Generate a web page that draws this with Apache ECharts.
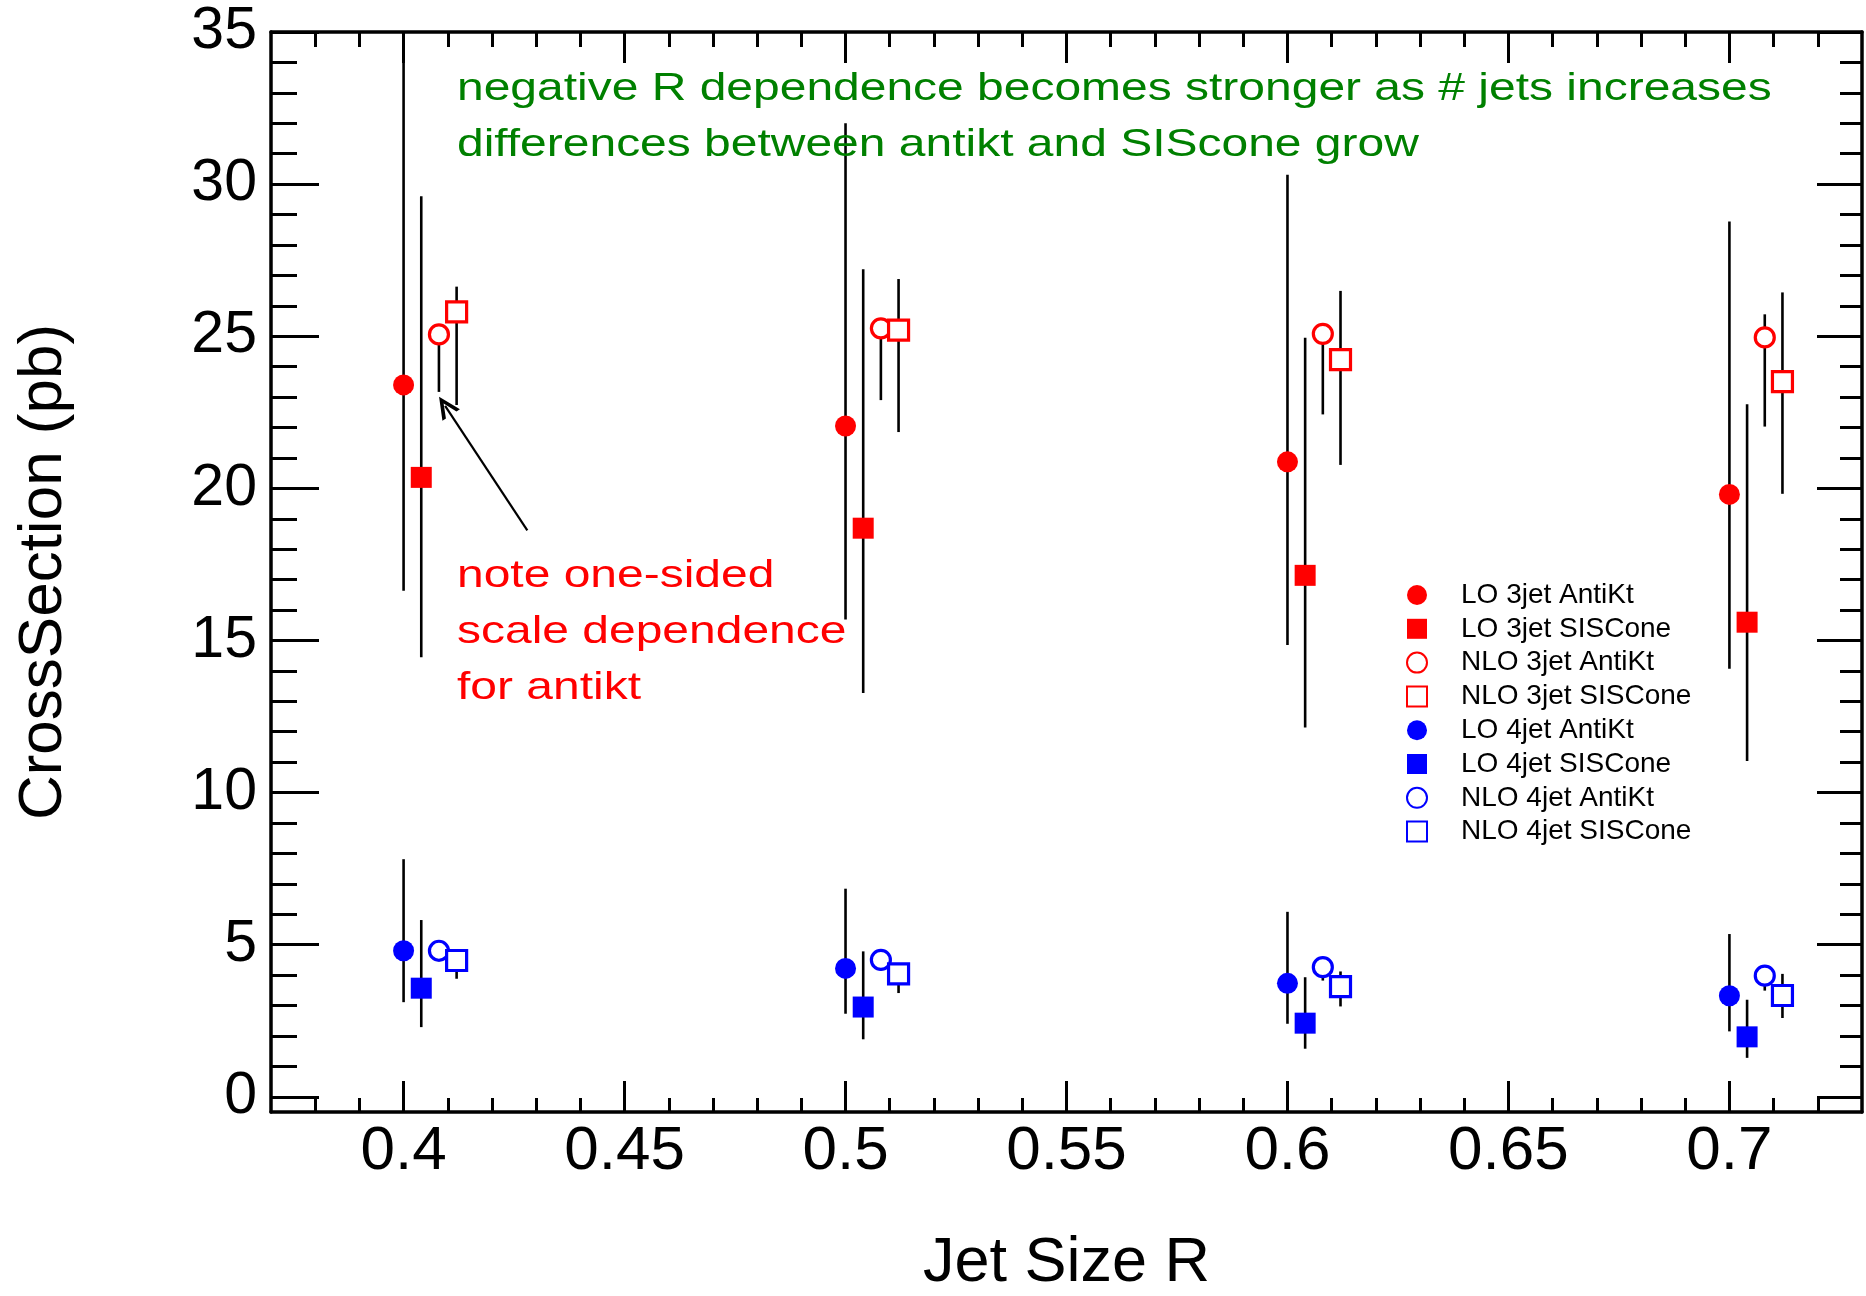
<!DOCTYPE html>
<html><head><meta charset="utf-8">
<script src="https://cdn.jsdelivr.net/npm/echarts@6/dist/echarts.min.js"></script>
<style>html,body{margin:0;padding:0;background:#fff}#c{width:1866px;height:1296px}</style>
</head><body><div id="c"></div>
<script>
// ---------- data ----------
const seriesNames = ['LO 3jet AntiKt','LO 3jet SISCone','NLO 3jet AntiKt','NLO 3jet SISCone',
                     'LO 4jet AntiKt','LO 4jet SISCone','NLO 4jet AntiKt','NLO 4jet SISCone'];
// x positions (jet size R, with the plot's small horizontal shifts per algorithm)
const xLOAntiKt  = [0.400, 0.500, 0.600, 0.700];
const xLOSIS     = [0.404, 0.504, 0.604, 0.704];
const xNLOAntiKt = [0.408, 0.508, 0.608, 0.708];
const xNLOSIS    = [0.412, 0.512, 0.612, 0.712];

// 3-jet
const lo3AntiKt     = [23.40, 22.05, 20.87, 19.80];
const lo3AntiKtLow  = [16.63, 15.69, 14.85, 14.07];
const lo3AntiKtHigh = [34.00, 32.00, 30.31, 28.77];
const lo3SIS        = [20.36, 18.69, 17.14, 15.60];
const lo3SISLow     = [14.45, 13.27, 12.14, 11.04];
const lo3SISHigh    = [29.60, 27.20, 24.95, 22.76];
const nlo3AntiKt     = [25.06, 25.26, 25.08, 24.96];
const nlo3AntiKtLow  = [23.17, 22.90, 22.43, 22.03];
const nlo3AntiKtHigh = [25.06, 25.26, 25.08, 25.72];
const nlo3SIS        = [25.80, 25.20, 24.23, 23.51];
const nlo3SISLow     = [22.74, 21.85, 20.77, 19.82];
const nlo3SISHigh    = [26.63, 26.88, 26.49, 26.44];
// 4-jet
const lo4AntiKt     = [4.80, 4.22, 3.73, 3.32];
const lo4AntiKtLow  = [3.11, 2.73, 2.40, 2.15];
const lo4AntiKtHigh = [7.81, 6.84, 6.08, 5.35];
const lo4SIS        = [3.57, 2.95, 2.42, 1.97];
const lo4SISLow     = [2.29, 1.89, 1.58, 1.28];
const lo4SISHigh    = [5.81, 4.78, 3.93, 3.19];
const nlo4AntiKt     = [4.80, 4.50, 4.26, 3.98];
const nlo4AntiKtLow  = [4.45, 4.15, 3.82, 3.49];
const nlo4AntiKtHigh = [4.80, 4.50, 4.26, 3.98];
const nlo4SIS        = [4.48, 4.04, 3.62, 3.33];
const nlo4SISLow     = [3.88, 3.41, 2.97, 2.59];
const nlo4SISHigh    = [4.70, 4.30, 4.12, 4.04];

// axis ticks
const xTicks = [0.4, 0.45, 0.5, 0.55, 0.6, 0.65, 0.7];
const xMinorTicks = [0.38, 0.39, 0.41, 0.42, 0.43, 0.44, 0.46, 0.47, 0.48, 0.49, 0.51, 0.52, 0.53, 0.54,
                     0.56, 0.57, 0.58, 0.59, 0.61, 0.62, 0.63, 0.64, 0.66, 0.67, 0.68, 0.69, 0.71, 0.72];
const yTicks = [0, 5, 10, 15, 20, 25, 30, 35];
const yMinorTicks = [1, 2, 3, 4, 6, 7, 8, 9, 11, 12, 13, 14, 16, 17, 18, 19, 21, 22, 23, 24,
                     26, 27, 28, 29, 31, 32, 33, 34];

// annotations
const greenLines = ['negative R dependence becomes stronger as # jets increases',
                    'differences between antikt and SIScone grow'];
const redLines = ['note one-sided', 'scale dependence', 'for antikt'];
const arrowFrom = [0.428, 18.62];
const arrowTo   = [0.4094, 22.71];

// ---------- build ----------
const FONT = '"Liberation Sans", Arial, Helvetica, sans-serif';
const RED = '#ff0000', BLUE = '#0000ff';
const defs = [
  {x: xLOAntiKt,  y: lo3AntiKt,  lo: lo3AntiKtLow,  hi: lo3AntiKtHigh,  sym: 'circle', c: RED,  open: false},
  {x: xLOSIS,     y: lo3SIS,     lo: lo3SISLow,     hi: lo3SISHigh,     sym: 'rect',   c: RED,  open: false},
  {x: xNLOAntiKt, y: nlo3AntiKt, lo: nlo3AntiKtLow, hi: nlo3AntiKtHigh, sym: 'circle', c: RED,  open: true},
  {x: xNLOSIS,    y: nlo3SIS,    lo: nlo3SISLow,    hi: nlo3SISHigh,    sym: 'rect',   c: RED,  open: true},
  {x: xLOAntiKt,  y: lo4AntiKt,  lo: lo4AntiKtLow,  hi: lo4AntiKtHigh,  sym: 'circle', c: BLUE, open: false},
  {x: xLOSIS,     y: lo4SIS,     lo: lo4SISLow,     hi: lo4SISHigh,     sym: 'rect',   c: BLUE, open: false},
  {x: xNLOAntiKt, y: nlo4AntiKt, lo: nlo4AntiKtLow, hi: nlo4AntiKtHigh, sym: 'circle', c: BLUE, open: true},
  {x: xNLOSIS,    y: nlo4SIS,    lo: nlo4SISLow,    hi: nlo4SISHigh,    sym: 'rect',   c: BLUE, open: true}
];

const errData = [];
defs.forEach(d => d.x.forEach((xv, i) => errData.push([xv, d.lo[i], d.hi[i]])));

const series = [{
  type: 'custom', name: 'errors', z: 1, silent: true,
  xAxisIndex: 0, yAxisIndex: 0,
  encode: {x: 0, y: [1, 2]},
  data: errData,
  renderItem: (params, api) => {
    const p1 = api.coord([api.value(0), api.value(1)]);
    const p2 = api.coord([api.value(0), api.value(2)]);
    return {type: 'line', shape: {x1: p1[0], y1: p1[1], x2: p2[0], y2: p2[1]},
            style: {stroke: '#000', lineWidth: 2.6}};
  }
}];
defs.forEach((d, k) => {
  const s = {
    type: 'scatter', name: seriesNames[k], z: 3,
    xAxisIndex: 0, yAxisIndex: 0,
    symbol: d.sym,
    symbolSize: d.open ? (d.sym === 'rect' ? 20 : 19) : 21,
    itemStyle: d.open ? {color: '#fff', borderColor: d.c, borderWidth: 3.2, opacity: 1}
                      : {color: d.c, opacity: 1},
    data: d.x.map((xv, i) => [xv, d.y[i]])
  };
  if (k === 2) {
    s.markLine = {
      silent: true, z: 5,
      symbol: ['none', 'path://M10,0 L20,20 L16,20 L10,7.5 L4,20 L0,20 Z'],
      symbolSize: [21, 22],
      label: {show: false},
      lineStyle: {color: '#000', width: 2.2, type: 'solid'},
      itemStyle: {color: '#000'},
      data: [[{coord: arrowFrom}, {coord: arrowTo}]]
    };
  }
  series.push(s);
});

const X0 = 0.37, X1 = 0.73, Y0 = -0.5, Y1 = 35;
function xAxisDef(pos, vals, len, withLine, withLabel) {
  const a = {
    type: 'value', position: pos, min: X0, max: X1,
    axisLine: {show: withLine, onZero: false, lineStyle: {color: '#000', width: 3.5}},
    axisTick: {show: true, inside: true, length: len, customValues: vals,
               lineStyle: {color: '#000', width: 3}},
    axisLabel: {show: withLabel},
    splitLine: {show: false}, minorTick: {show: false}, minorSplitLine: {show: false}
  };
  if (withLabel) {
    a.axisLabel = {show: true, customValues: xTicks, fontSize: 62, color: '#000',
                   fontFamily: FONT, margin: 9};
    a.name = 'Jet Size R'; a.nameLocation = 'middle'; a.nameGap = 120;
    a.nameTextStyle = {fontSize: 63, color: '#000', fontFamily: FONT};
  }
  return a;
}
function yAxisDef(pos, vals, len, withLine, withLabel) {
  const a = {
    type: 'value', position: pos, min: Y0, max: Y1,
    axisLine: {show: withLine, onZero: false, lineStyle: {color: '#000', width: 3.5}},
    axisTick: {show: true, inside: true, length: len, customValues: vals,
               lineStyle: {color: '#000', width: 3}},
    axisLabel: {show: withLabel},
    splitLine: {show: false}, minorTick: {show: false}, minorSplitLine: {show: false}
  };
  if (withLabel) {
    a.axisLabel = {show: true, customValues: yTicks, fontSize: 59, color: '#000',
                   fontFamily: FONT, margin: 14};
    a.name = 'CrossSection (pb)'; a.nameLocation = 'middle'; a.nameGap = 196;
    a.nameTextStyle = {fontSize: 62, color: '#000', fontFamily: FONT};
  }
  return a;
}

const graphics = [];
greenLines.forEach((t, i) => graphics.push({
  type: 'text', x: 457, y: 89 + i * 56, scaleX: 1.23, z: 10, silent: true,
  style: {text: t, fill: '#008000', fontSize: 39, fontFamily: FONT, align: 'left', verticalAlign: 'middle'}
}));
redLines.forEach((t, i) => graphics.push({
  type: 'text', x: 457, y: 576 + i * 56, scaleX: 1.23, z: 10, silent: true,
  style: {text: t, fill: '#ff0000', fontSize: 39, fontFamily: FONT, align: 'left', verticalAlign: 'middle'}
}));

const chart = echarts.init(document.getElementById('c'), null, {renderer: 'canvas'});
chart.setOption({
  animation: false,
  backgroundColor: '#fff',
  grid: {left: 271, right: 4, top: 32, bottom: 184, containLabel: false, outerBoundsMode: 'none'},
  xAxis: [
    xAxisDef('bottom', xTicks, 31, true, true),
    xAxisDef('bottom', xMinorTicks, 14, false, false),
    xAxisDef('top', xTicks, 31, true, false),
    xAxisDef('top', xMinorTicks, 15, false, false)
  ],
  yAxis: [
    yAxisDef('left', yTicks, 48, true, true),
    yAxisDef('left', yMinorTicks, 26, false, false),
    yAxisDef('right', yTicks, 45, true, false),
    yAxisDef('right', yMinorTicks, 22, false, false)
  ],
  legend: {
    orient: 'vertical', left: 1401, top: 576,
    itemWidth: 20, itemHeight: 20, itemGap: 5.8,
    data: seriesNames,
    textStyle: {fontSize: 28, color: '#000', fontFamily: FONT, padding: [0, 0, 0, 29]},
    selectedMode: false
  },
  graphic: graphics,
  series: series
});
</script>
</body></html>
